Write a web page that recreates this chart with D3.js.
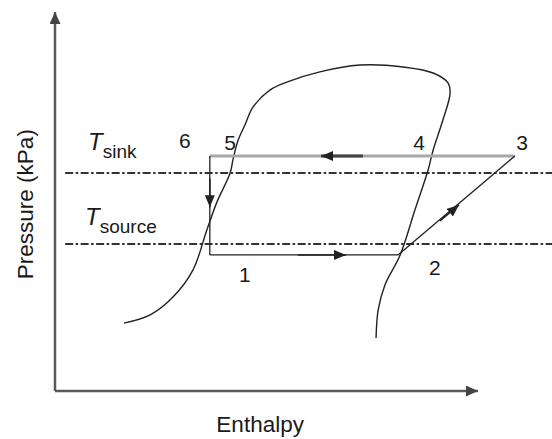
<!DOCTYPE html>
<html>
<head>
<meta charset="utf-8">
<script src="https://cdn.jsdelivr.net/npm/d3@7/dist/d3.min.js"></script>
<style>
  body { margin: 0; background: #fff; }
  svg { display: block; font-family: "Liberation Sans", Arial, sans-serif; }
</style>
</head>
<body>
<div id="chart"></div>
<script>
// saturation dome, enthalpy / pressure in arbitrary units (0-100 along the axes)
const domeH = [16.3, 22.5, 27.9, 32.6, 35.9, 38.3, 41.4, 42.1, 43.3, 44.9, 46.8, 50.8, 54.8, 62.6, 72.1, 82.3, 89.4, 92.9, 93.4, 91.7, 89.4, 88.2, 85.1, 81.6, 78.0, 76.4, 75.9];
const domeP = [17.9, 20.1, 24.8, 31.9, 42.5, 49.9, 57.5, 61.2, 66.2, 70.2, 74.9, 79.4, 81.5, 84.2, 86.0, 85.5, 83.9, 81.3, 78.6, 71.5, 63.6, 58.3, 47.8, 35.9, 28.0, 21.4, 14.0];

// cycle corners: 3 -> 5/6 -> 1 -> 2 -> back to 3
const cycleH = [108.7, 36.6, 36.6, 81.1, 108.7];
const cycleP = [62.0, 62.0, 35.9, 35.9, 62.0];

// flow arrows (start, tip)
const arrowH0 = [72.8, 36.6, 57.4, 91.0];
const arrowP0 = [62.0, 56.0, 35.9, 44.9];
const arrowH1 = [62.9, 36.6, 68.8, 95.5];
const arrowP1 = [62.0, 48.5, 35.9, 49.1];

// state labels
const stateNames = ["1", "2", "3", "4", "5", "6"];
const stateH = [44.9, 89.8, 110.4, 86.1, 41.4, 30.7];
const stateP = [28.8, 30.6, 63.6, 63.6, 63.6, 64.1];

// reservoir temperatures
const tempNames = ["sink", "source"];
const tempP = [57.5, 38.8];
const tempLabelH = [7.8, 7.1];
const tempLabelP = [63.6, 43.8];

const W = 552, H = 439;
const x = d3.scaleLinear().domain([0, 100]).range([55, 478]);
const y = d3.scaleLinear().domain([0, 100]).range([391, 12]);

const svg = d3.select("#chart").append("svg").attr("width", W).attr("height", H);
const defs = svg.append("defs");
const mk = (id, len, wid, col) => {
  defs.append("marker").attr("id", id)
    .attr("markerUnits", "userSpaceOnUse")
    .attr("markerWidth", len).attr("markerHeight", wid)
    .attr("refX", len).attr("refY", wid / 2)
    .attr("orient", "auto")
    .append("path").attr("d", `M0,0L${len},${wid / 2}L0,${wid}Z`).attr("fill", col);
};
mk("axhead", 12, 11, "#444");
mk("flow", 12, 10, "#222");

// axes (no ticks)
const axisLine = svg.append("g").attr("stroke", "#5a5a5a").attr("stroke-width", 2.5).attr("fill", "none");
axisLine.append("line").attr("x1", x(0)).attr("y1", y(0)).attr("x2", x(0)).attr("y2", y(100)).attr("marker-end", "url(#axhead)");
axisLine.append("line").attr("x1", x(0)).attr("y1", y(0)).attr("x2", x(100)).attr("y2", y(0)).attr("marker-end", "url(#axhead)");

svg.append("text").text("Pressure (kPa)")
  .attr("transform", `translate(33, ${y(49.3)}) rotate(-90)`)
  .attr("text-anchor", "middle").attr("font-size", 22.5).attr("fill", "#1a1a1a");
svg.append("text").text("Enthalpy")
  .attr("x", x(48.5)).attr("y", 432)
  .attr("text-anchor", "middle").attr("font-size", 22.5).attr("fill", "#1a1a1a");

// reservoir temperature lines
svg.append("g").selectAll("line").data(tempP).enter().append("line")
  .attr("x1", x(2.4)).attr("x2", W)
  .attr("y1", (d) => y(d)).attr("y2", (d) => y(d))
  .attr("stroke", "#333").attr("stroke-width", 2)
  .attr("stroke-dasharray", "8,2.5,2.5,2.5");

const tl = svg.append("g").selectAll("text").data(tempNames).enter().append("text")
  .attr("x", (d, i) => x(tempLabelH[i])).attr("y", (d, i) => y(tempLabelP[i]))
  .attr("fill", "#1a1a1a");
tl.append("tspan").text("T").attr("font-style", "italic").attr("font-size", 24);
tl.append("tspan").text((d) => d).attr("font-size", 19).attr("dy", 8);

// saturation dome
const dome = domeH.map((h, i) => [h, domeP[i]]);
svg.append("path").datum(dome)
  .attr("d", d3.line().x((d) => x(d[0])).y((d) => y(d[1])).curve(d3.curveCatmullRom))
  .attr("fill", "none").attr("stroke", "#222").attr("stroke-width", 1.4);

// cycle segments: condenser drawn in grey, the rest thin and dark
const segs = d3.range(cycleH.length - 1);
svg.append("g").selectAll("line").data(segs).enter().append("line")
  .attr("x1", (i) => x(cycleH[i])).attr("y1", (i) => y(cycleP[i]))
  .attr("x2", (i) => x(cycleH[i + 1])).attr("y2", (i) => y(cycleP[i + 1]))
  .attr("stroke", (i) => (i === 0 ? "#a8a8a8" : "#222"))
  .attr("stroke-width", (i) => (i === 0 ? 3 : 1.3));

svg.append("g").selectAll("line").data(arrowH0).enter().append("line")
  .attr("x1", (d) => x(d)).attr("y1", (d, i) => y(arrowP0[i]))
  .attr("x2", (d, i) => x(arrowH1[i])).attr("y2", (d, i) => y(arrowP1[i]))
  .attr("stroke", (d, i) => (i === 0 ? "#444" : "#222"))
  .attr("stroke-width", (d, i) => (i === 0 ? 3 : 1.6))
  .attr("marker-end", "url(#flow)");

// state numbers
svg.append("g").selectAll("text").data(stateNames).enter().append("text")
  .text((d) => d)
  .attr("x", (d, i) => x(stateH[i])).attr("y", (d, i) => y(stateP[i]))
  .attr("text-anchor", "middle").attr("font-size", 21).attr("fill", "#1a1a1a");
</script>
</body>
</html>
